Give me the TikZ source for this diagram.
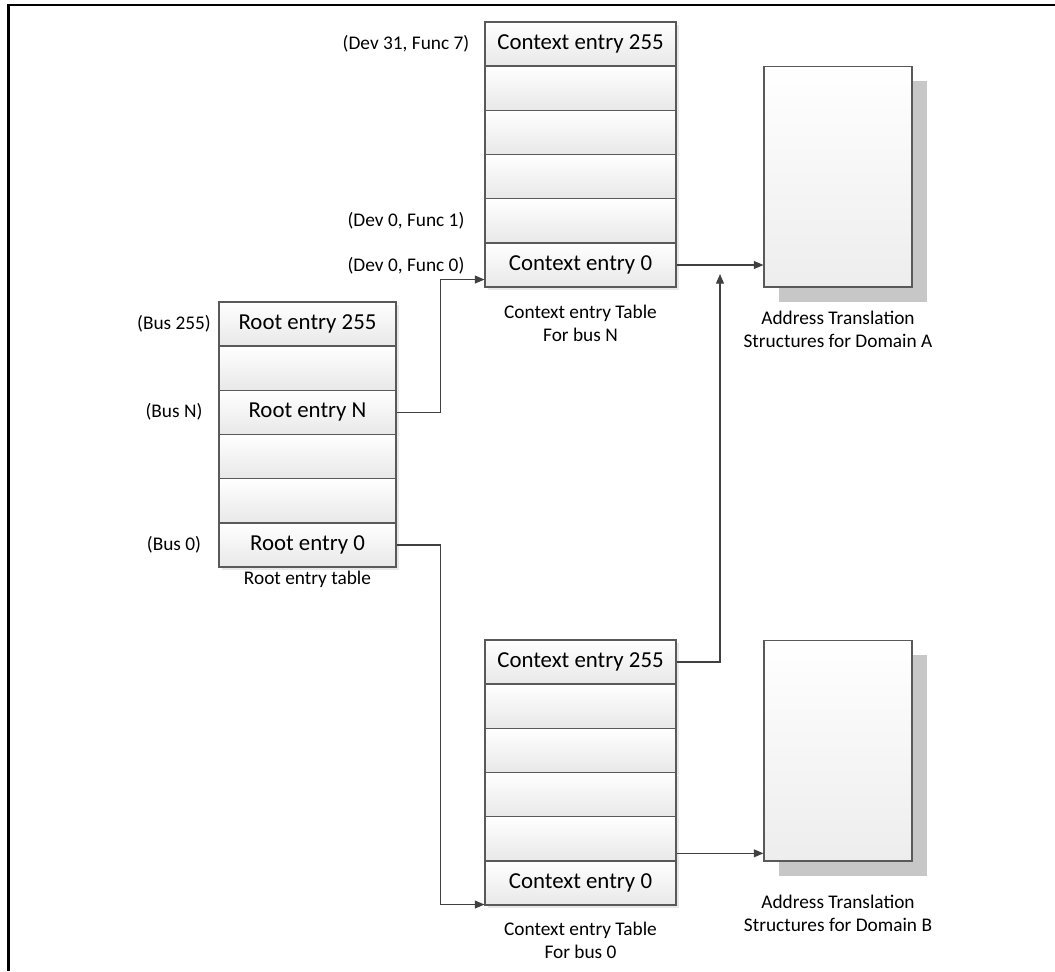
\documentclass[tikz,border=0pt]{standalone}
\usepackage{fontspec}
\setmainfont{Carlito}
\usetikzlibrary{arrows.meta,positioning,shadows}

\begin{document}
\begin{tikzpicture}[x=0.02cm,y=-0.02cm,>={Triangle[length=5.5pt,width=4.5pt]},
  cell/.style={draw=black!65,line width=0.6pt,top color=white,bottom color=black!9,
    minimum height=0.88cm,inner sep=0pt,font=\fontsize{13}{15}\selectfont,
    drop shadow={shadow xshift=0.06cm,shadow yshift=-0.06cm,fill=black!9,opacity=1}},
  ctxcell/.style={cell,minimum width=3.82cm},
  rootcell/.style={cell,minimum width=3.54cm},
  tag/.style={inner sep=1pt,font=\fontsize{11}{13}\selectfont},
  caption/.style={align=center,inner sep=1pt,font=\fontsize{11}{13.1}\selectfont},
  atsbox/.style={draw=black!65,line width=0.6pt,top color=white,bottom color=black!7,
    minimum width=2.96cm,minimum height=4.42cm,
    drop shadow={shadow xshift=0.3cm,shadow yshift=-0.3cm,fill=black!22,opacity=1}},
  link/.style={draw=black!75,line width=0.7pt}]
\useasboundingbox (0,0) rectangle (1055,971);
% frame
\draw[line width=1.2pt] (8.5,971) -- (8.5,5) -- (1055,5);
% context entry table for bus N (top row first)
\foreach \i/\txt in {5/Context entry 255,4/,3/,2/,1/,0/Context entry 0}
  \node[ctxcell] (cN\i) at (580.5,{265-44.2*\i}) {\txt};
% root entry table
\foreach \i/\txt in {5/Root entry 255,4/,3/Root entry N,2/,1/,0/Root entry 0}
  \node[rootcell] (rt\i) at (307.5,{545-44.2*\i}) {\txt};
% context entry table for bus 0
\foreach \i/\txt in {5/Context entry 255,4/,3/,2/,1/,0/Context entry 0}
  \node[ctxcell] (cB\i) at (580.5,{883-44.2*\i}) {\txt};
% address translation structures
\node[atsbox] (domA) at (838,176.5) {};
\node[atsbox] (domB) at (838,750.5) {};
% index labels
\node[tag] (tDevA) at (406,44) {(Dev 31, Func 7)};
\node[tag] (tDevB) at (406,221) {(Dev 0, Func 1)};
\node[tag] (tDevC) at (406,266) {(Dev 0, Func 0)};
\node[tag] (tBusA) at (174,324) {(Bus 255)};
\node[tag] (tBusN) at (174,412) {(Bus N)};
\node[tag] (tBusZ) at (174,545) {(Bus 0)};
% captions
\node[caption,below=9pt of cN0] (capN) {Context entry Table\\For bus N};
\node[caption,below=1pt of rt0] (capR) {Root entry table};
\node[caption,below=8pt of cB0] (capB) {Context entry Table\\For bus 0};
\node[caption,below=12pt of domA] (capDA) {Address Translation\\Structures for Domain A};
\node[caption,below=18pt of domB] (capDB) {Address Translation\\Structures for Domain B};
% connectors
\coordinate (tipA) at (720,274);
\draw[link,->] (rt3.east) -- ++(44,0) |- ([yshift=0.16cm]cN0.south west);
\draw[link,->] (rt0.east) -- ++(44,0) |- ([yshift=0.02cm]cB0.south west);
\draw[link,->] (cN0.east) -- (cN0.east -| domA.west);
\draw[link,->] (cB5.east) -| (tipA);
\draw[link,->] ([yshift=0.16cm]cB1.south east) -- ([yshift=0.16cm]cB1.south east -| domB.west);
\end{tikzpicture}
\end{document}
